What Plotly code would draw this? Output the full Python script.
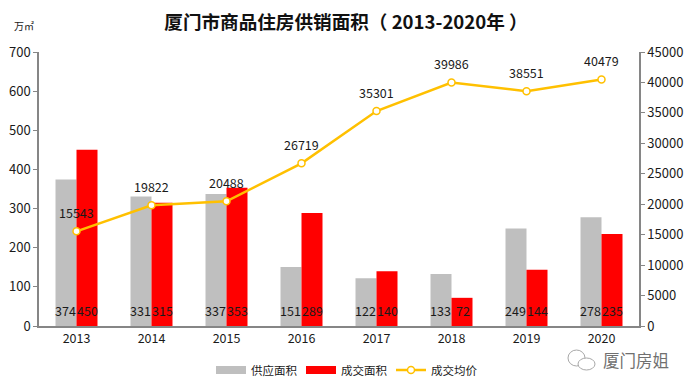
import plotly.graph_objects as go

years = ["2013", "2014", "2015", "2016", "2017", "2018", "2019", "2020"]
supply = [374, 331, 337, 151, 122, 133, 249, 278]
sales = [450, 315, 353, 289, 140, 72, 144, 235]
price = [15543, 19822, 20488, 26719, 35301, 39986, 38551, 40479]

FONT = "Noto Sans CJK SC, Noto Sans, sans-serif"
TXT = "#1a1a1a"
AXIS = "#868686"
GRAY = "#BFBFBF"
RED = "#FF0000"
W, H = 692, 391
L, R, T, B = 39, 53, 52, 65


def px(x):
    return (x - L) / (W - L - R)


def py(y):
    return (H - B - y) / (H - T - B)


fig = go.Figure()
fig.add_bar(x=years, y=supply, name="供应面积", marker_color=GRAY, marker_line_width=0, showlegend=False)
fig.add_bar(x=years, y=sales, name="成交面积", marker_color=RED, marker_line_width=0, showlegend=False)
fig.add_scatter(x=[None], y=[None], name="供应面积", mode="lines", line=dict(color=GRAY, width=8))
fig.add_scatter(x=[None], y=[None], name="成交面积", mode="lines", line=dict(color=RED, width=8))
fig.add_scatter(
    x=years, y=price, name="成交均价", yaxis="y2", mode="lines+markers",
    line=dict(color="#FFC000", width=2.5),
    marker=dict(size=7, color="#FFFFFF", line=dict(color="#FFC000", width=1.5)),
    cliponaxis=False,
)

lab = dict(size=12.5, color=TXT, family=FONT)
annotations = []
for i, (a, b, p) in enumerate(zip(supply, sales, price)):
    annotations.append(dict(x=i, y=0, xref="x", yref="y", text=str(a), showarrow=False,
                            xshift=-11, yshift=16, font=lab))
    annotations.append(dict(x=i, y=0, xref="x", yref="y", text=str(b), showarrow=False,
                            xshift=11, yshift=16, font=lab))
    annotations.append(dict(x=i, y=p, xref="x", yref="y2", text=str(p), showarrow=False,
                            yshift=19, font=lab))
annotations.append(dict(x=px(24), y=py(25), xref="paper", yref="paper", yanchor="middle", xanchor="center",
                        text="万㎡", showarrow=False, font=dict(size=10, color=TXT, family=FONT)))
annotations.append(dict(x=px(636), y=py(360), xref="paper", yref="paper", yanchor="middle", xanchor="center",
                        text="厦门房姐", showarrow=False, font=dict(size=16.5, color="#707070", family=FONT)))

fig.update_layout(
    width=W, height=H, autosize=False,
    margin=dict(l=L, r=R, t=T, b=B),
    paper_bgcolor="white", plot_bgcolor="white",
    font=dict(family=FONT, size=12, color=TXT),
    title=dict(text="<b>厦门市商品住房供销面积（ 2013-2020年 ）</b>", x=346/W, xanchor="center",
               y=1-22/H, yanchor="middle", font=dict(size=18.6, color="#111111", family=FONT)),
    barmode="group", bargap=0.44, bargroupgap=0,
    xaxis=dict(type="category", range=[-0.5, 7.5], automargin=False, showline=True, linecolor=AXIS,
               linewidth=1.5, ticks="", showgrid=False, tickfont=dict(size=12.5, color=TXT)),
    yaxis=dict(range=[0, 700], dtick=100, automargin=False, showline=True, linecolor=AXIS, linewidth=1.5,
               ticks="outside", tickcolor=AXIS, ticklen=4, showgrid=False, zeroline=False,
               tickfont=dict(size=13, color=TXT)),
    yaxis2=dict(range=[0, 45000], dtick=5000, tickformat="d", automargin=False, overlaying="y", side="right",
                showline=True, linecolor=AXIS, linewidth=1.5, ticks="outside", tickcolor=AXIS, ticklen=4,
                showgrid=False, zeroline=False, tickfont=dict(size=13, color=TXT)),
    legend=dict(orientation="h", xref="container", yref="container", x=346/W, xanchor="center",
                y=1-370/H, yanchor="middle", font=dict(size=11.5, color=TXT), bgcolor="rgba(0,0,0,0)",
                tracegroupgap=0, entrywidth=45, entrywidthmode="pixels"),
    annotations=annotations,
    shapes=[
        dict(type="circle", xref="paper", yref="paper", x0=px(568), x1=px(585), y0=py(366), y1=py(350),
             line=dict(color="#a8a8a8", width=1)),
        dict(type="circle", xref="paper", yref="paper", x0=px(578), x1=px(595), y0=py(370), y1=py(358),
             line=dict(color="#a8a8a8", width=1), fillcolor="white"),
    ],
)
fig.write_html("out.html", config={"displayModeBar": False}, post_script="document.body.style.margin='0';")
